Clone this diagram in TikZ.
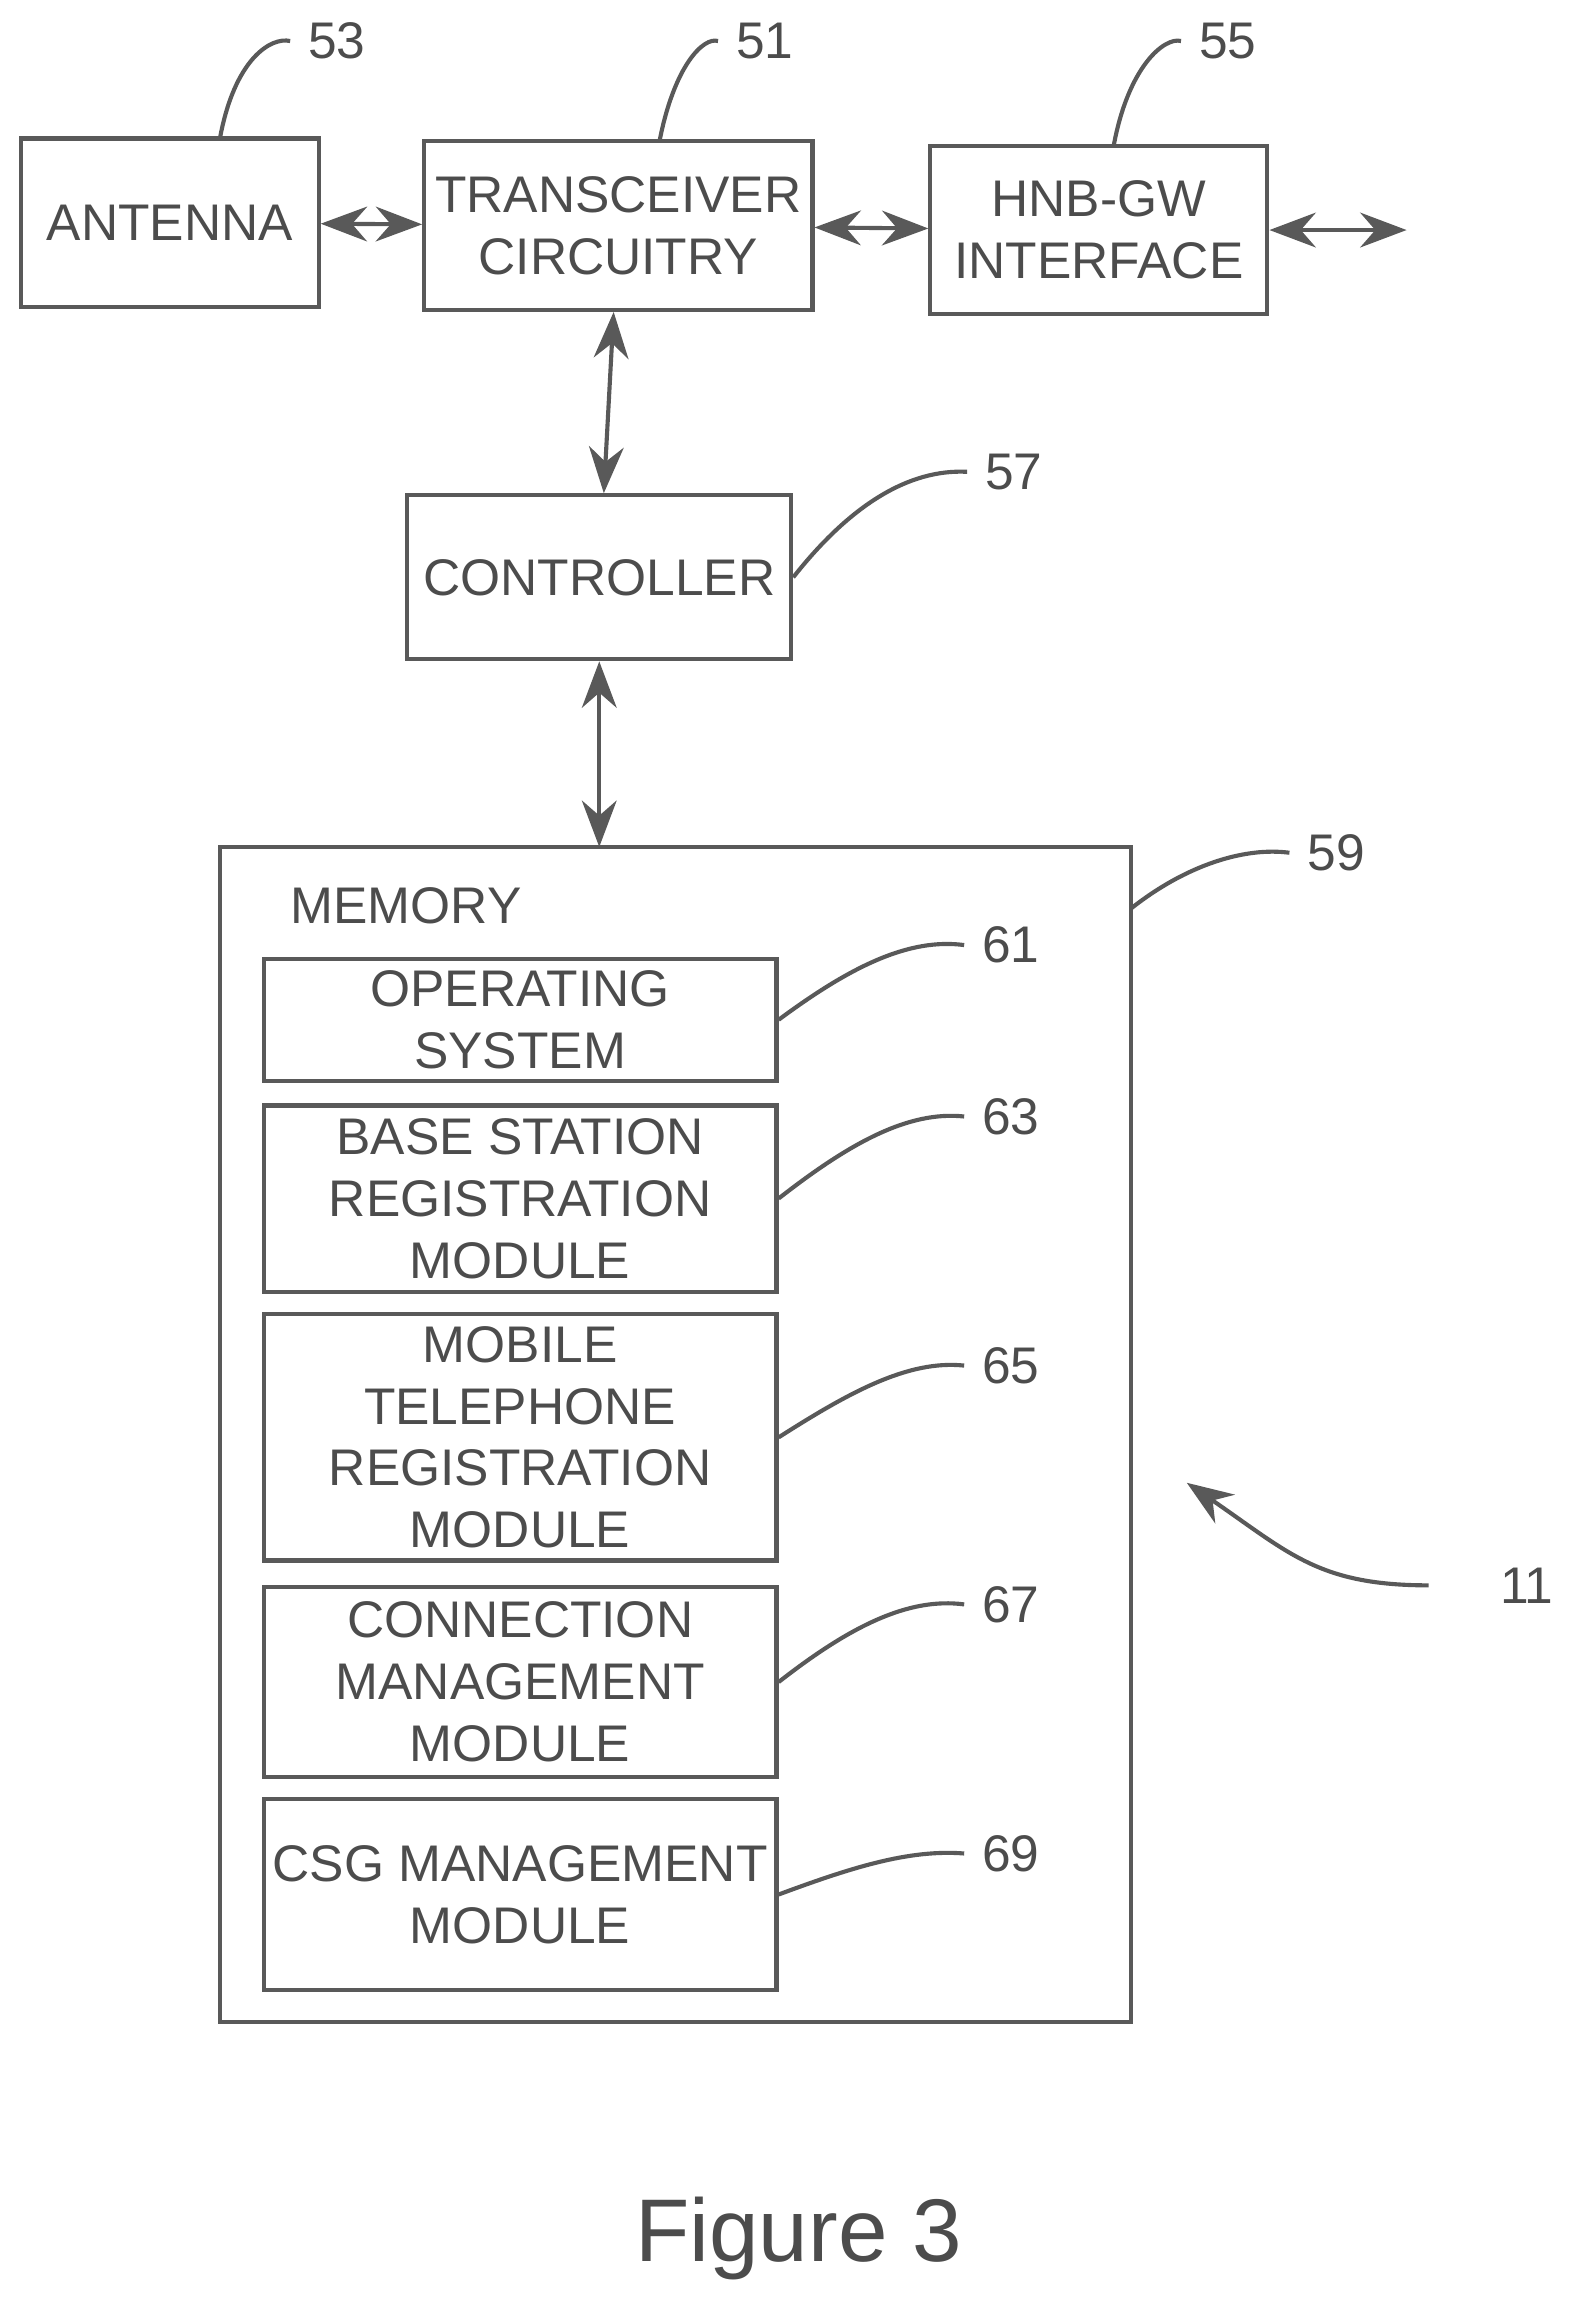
\documentclass[tikz,border=0pt]{standalone}
\usepackage{fontspec}
\setmainfont{Liberation Sans}
\usetikzlibrary{arrows.meta}
\tikzset{blk/.style={draw, thick, gray!70!black, text=gray!60!black, align=center, inner sep=0pt, font=\normalsize},
  lead/.style={thick, gray!70!black},
  link/.style={thick, gray!70!black, {Stealth[length=9pt]}-{Stealth[length=9pt]}},
  num/.style={text=gray!60!black, font=\normalsize}}
\begin{document}
\begin{tikzpicture}[x=0.1mm, y=-0.1mm]
\useasboundingbox (0,0) rectangle (1080,1580);
% Top row
    \node[blk, minimum width=203*0.1mm, minimum height=115*0.1mm] (ant) at (116,152) {ANTENNA};
    \node[blk, minimum width=265*0.1mm, minimum height=115*0.1mm] (trx) at (422,154) {TRANSCEIVER\\CIRCUITRY};
    \node[blk, minimum width=230*0.1mm, minimum height=115*0.1mm] (hnb) at (750,157) {HNB-GW\\INTERFACE};
    \coordinate (out) at (960,157);
    \node[blk, minimum width=262*0.1mm, minimum height=112*0.1mm] (ctl) at (409,394) {CONTROLLER};
% Memory
    \draw[thick, gray!70!black] (150,578) rectangle (772,1380);
    \coordinate (memtop) at (409,578);
    \node[num, anchor=west] (memlbl) at (186,618) {MEMORY};
    \node[blk, minimum width=350*0.1mm, minimum height=83*0.1mm] (os) at (355,696) {OPERATING\\SYSTEM};
    \node[blk, minimum width=350*0.1mm, minimum height=127*0.1mm] (bsr) at (355,818) {BASE STATION\\REGISTRATION\\MODULE};
    \node[blk, minimum width=350*0.1mm, minimum height=168*0.1mm] (mtr) at (355,981) {MOBILE\\TELEPHONE\\REGISTRATION\\MODULE};
    \node[blk, minimum width=350*0.1mm, minimum height=130*0.1mm] (cmm) at (355,1148) {CONNECTION\\MANAGEMENT\\MODULE};
    \node[blk, minimum width=350*0.1mm, minimum height=130*0.1mm] (csg) at (355,1293) {CSG MANAGEMENT\\MODULE};
% Links
    \draw[link] (ant) -- (trx);
    \draw[link] (trx) -- (hnb);
    \draw[link] (hnb) -- (out);
    \draw[link] (trx) -- (ctl);
    \draw[link] (ctl) -- (memtop);
% Reference numerals
    \node[num] (n53) at (230,28) {53};
    \node[num] (n51) at (522,28) {51};
    \node[num] (n55) at (838,28) {55};
    \node[num] (n57) at (692,322) {57};
    \node[num] (n59) at (912,582) {59};
    \node[num] (n61) at (690,645) {61};
    \node[num] (n63) at (690,762) {63};
    \node[num] (n65) at (690,932) {65};
    \node[num] (n67) at (690,1095) {67};
    \node[num] (n69) at (690,1265) {69};
    \node[num] (n11) at (1042,1082) {11};
    \node[text=gray!60!black, font=\LARGE] (fig) at (545,1528) {Figure 3};
% Leaders
    \draw[lead] (150,95) .. controls (160,40) and (185,25) .. (n53.west);
    \draw[lead] (450,97) .. controls (460,45) and (480,25) .. (n51.west);
    \draw[lead] (760,100) .. controls (770,45) and (795,25) .. (n55.west);
    \draw[lead] (ctl.east) .. controls (580,345) and (620,320) .. (n57.west);
    \draw[lead] (772,620) .. controls (810,590) and (850,578) .. (n59.west);
    \draw[lead] (os.east) .. controls (580,660) and (620,640) .. (n61.west);
    \draw[lead] (bsr.east) .. controls (580,780) and (620,758) .. (n63.west);
    \draw[lead] (mtr.east) .. controls (580,950) and (620,928) .. (n65.west);
    \draw[lead] (cmm.east) .. controls (580,1110) and (620,1090) .. (n67.west);
    \draw[lead] (csg.east) .. controls (580,1275) and (620,1262) .. (n69.west);
    \draw[lead, -{Stealth[length=9pt]}] (975,1082) .. controls (900,1082) and (880,1060) .. (810,1012);
\end{tikzpicture}
\end{document}
